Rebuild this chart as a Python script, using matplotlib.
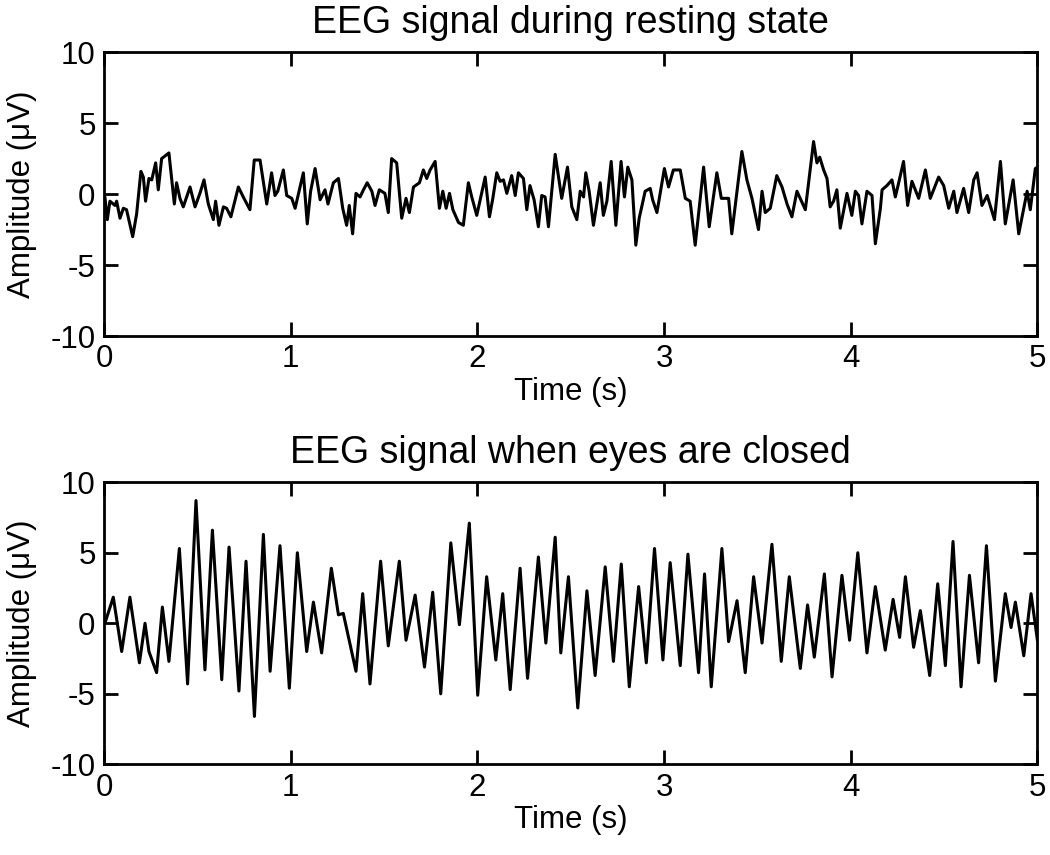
import matplotlib
matplotlib.use("Agg")
import matplotlib.pyplot as plt

# values (time in s, amplitude in uV), at peaks / troughs
rest_t = [0.0, 0.005, 0.018, 0.032, 0.059, 0.068, 0.086, 0.104, 0.121, 0.154, 0.175,
          0.198, 0.211, 0.223, 0.241, 0.256, 0.277, 0.291, 0.309, 0.348, 0.377, 0.389,
          0.407, 0.425, 0.461, 0.488, 0.514, 0.536, 0.559, 0.586, 0.598, 0.616, 0.640,
          0.657, 0.680, 0.720, 0.746, 0.782, 0.805, 0.836, 0.872, 0.898, 0.916, 0.931,
          0.961, 0.979, 1.006, 1.024, 1.068, 1.089, 1.107, 1.131, 1.158, 1.184, 1.200,
          1.229, 1.256, 1.279, 1.300, 1.314, 1.332, 1.350, 1.372, 1.390, 1.410, 1.435,
          1.452, 1.475, 1.505, 1.523, 1.541, 1.568, 1.595, 1.618, 1.636, 1.658, 1.690,
          1.711, 1.729, 1.747, 1.774, 1.797, 1.815, 1.833, 1.851, 1.869, 1.899, 1.925,
          1.952, 1.970, 1.997, 2.042, 2.065, 2.083, 2.104, 2.122, 2.140, 2.158, 2.184,
          2.203, 2.220, 2.247, 2.265, 2.282, 2.304, 2.327, 2.345, 2.363, 2.381, 2.417,
          2.452, 2.483, 2.506, 2.533, 2.551, 2.569, 2.581, 2.599, 2.622, 2.658, 2.675,
          2.694, 2.717, 2.742, 2.770, 2.788, 2.806, 2.828, 2.849, 2.867, 2.899, 2.926,
          2.939, 2.962, 3.002, 3.024, 3.050, 3.087, 3.114, 3.140, 3.167, 3.212, 3.242,
          3.283, 3.307, 3.346, 3.363, 3.417, 3.444, 3.471, 3.506, 3.525, 3.542, 3.569,
          3.604, 3.632, 3.659, 3.685, 3.712, 3.757, 3.801, 3.819, 3.834, 3.855, 3.873,
          3.890, 3.908, 3.926, 3.944, 3.980, 4.006, 4.025, 4.042, 4.060, 4.087, 4.114,
          4.132, 4.159, 4.168, 4.194, 4.221, 4.239, 4.257, 4.283, 4.305, 4.328, 4.364,
          4.400, 4.426, 4.471, 4.498, 4.525, 4.552, 4.569, 4.605, 4.632, 4.659, 4.677,
          4.703, 4.731, 4.770, 4.802, 4.828, 4.870, 4.900, 4.945, 4.962, 4.989, 5.0]
rest_v = [-0.3, -0.2, -1.8, -0.5, -0.8, -0.5, -1.7, -1.0, -1.1, -3.0, -1.4,
          1.6, 1.2, -0.5, 1.1, 1.0, 2.2, 0.3, 2.5, 2.9, -0.7, 0.8,
          -0.3, -0.9, 0.5, -0.9, 0.05, 1.0, -0.7, -1.8, -0.5, -2.2, -0.9,
          -1.0, -1.6, 0.5, -0.2, -1.1, 2.4, 2.4, -0.7, 1.5, -0.1, 0.2,
          1.7, -0.1, -0.3, -1.0, 1.5, -2.1, 0.2, 1.8, -0.4, 0.3, -0.7,
          0.8, 1.1, -1.0, -2.2, -0.8, -2.8, 0.05, -0.2, 0.3, 0.8, 0.2,
          -0.8, 0.3, 0.05, -1.3, 2.5, 2.2, -1.7, -0.3, -1.3, 0.5, 0.8,
          1.7, 1.1, 1.7, 2.3, -1.0, 0.2, -1.0, 0.05, -1.1, -2.0, -2.2,
          0.8, -0.2, -1.5, 1.2, -1.6, -0.3, 1.5, 0.9, 1.0, 0.05, 1.3,
          -0.1, 1.5, 1.1, -1.1, 0.6, -0.4, -2.3, -0.1, -0.2, -2.3, 2.8,
          -0.3, 1.9, -0.9, -1.8, 0.2, -0.2, 1.5, 0.2, -2.2, 0.8, -1.5,
          -0.5, 2.3, -2.2, 2.3, -0.2, 1.9, 1.0, -3.6, -1.7, 0.2, 0.4,
          -0.4, -1.3, 1.8, 0.5, 1.7, 1.7, -0.3, -0.5, -3.6, 1.9, -2.3,
          1.5, -0.3, -0.3, -2.8, 3.0, 1.0, -0.3, -2.5, 0.2, -1.3, -1.0,
          1.3, 0.5, -0.7, -1.6, 0.2, -1.1, 3.7, 2.2, 2.6, 1.7, 1.1,
          -0.9, -0.5, 0.3, -2.4, 0.05, -1.5, 0.2, -0.1, -2.1, 0.2, -0.1,
          -3.5, -1.0, 0.3, 0.6, 1.0, -0.2, 0.8, 2.3, -0.8, 0.9, -0.3,
          1.7, -0.3, 1.2, 0.6, -1.0, 0.2, -1.3, 0.4, -1.3, 1.0, 1.5,
          -0.8, -0.1, -1.8, 2.3, -2.1, 1.0, -2.8, 0.2, -1.1, 1.8, 1.9]

closed_t = [0.0, 0.005, 0.050, 0.095, 0.139, 0.190, 0.220, 0.241, 0.282, 0.313, 0.348,
            0.404, 0.448, 0.493, 0.541, 0.581, 0.631, 0.670, 0.723, 0.761, 0.806, 0.854,
            0.890, 0.943, 0.993, 1.036, 1.086, 1.122, 1.166, 1.218, 1.256, 1.282, 1.350,
            1.386, 1.425, 1.482, 1.523, 1.582, 1.618, 1.667, 1.717, 1.761, 1.804, 1.858,
            1.904, 1.957, 2.002, 2.050, 2.099, 2.136, 2.176, 2.229, 2.269, 2.327, 2.367,
            2.417, 2.447, 2.488, 2.538, 2.587, 2.631, 2.685, 2.729, 2.771, 2.814, 2.864,
            2.905, 2.949, 2.994, 3.033, 3.087, 3.128, 3.185, 3.217, 3.253, 3.310, 3.346,
            3.391, 3.435, 3.480, 3.525, 3.578, 3.628, 3.671, 3.730, 3.769, 3.805, 3.859,
            3.900, 3.953, 3.994, 4.038, 4.087, 4.132, 4.185, 4.227, 4.262, 4.293, 4.337,
            4.373, 4.423, 4.466, 4.507, 4.548, 4.591, 4.636, 4.685, 4.727, 4.775, 4.828,
            4.859, 4.882, 4.927, 4.966, 5.0]
closed_v = [0.3, 0.0, 1.85, -2.0, 1.85, -2.8, 0.0, -2.0, -3.5, 1.15, -2.7,
            5.3, -4.3, 8.7, -3.3, 6.6, -4.0, 5.4, -4.8, 4.4, -6.6, 6.3,
            -3.4, 5.5, -4.6, 5.0, -2.0, 1.5, -2.1, 3.9, 0.6, 0.7, -3.4,
            2.1, -4.3, 4.4, -1.6, 4.4, -1.2, 2.0, -3.1, 2.2, -5.0, 5.7,
            -0.1, 7.1, -5.1, 3.3, -2.6, 2.1, -4.7, 3.9, -3.9, 4.7, -1.4,
            6.1, -2.1, 3.3, -6.0, 2.3, -3.7, 4.0, -2.7, 4.2, -4.5, 2.6,
            -2.8, 5.3, -2.6, 4.3, -3.0, 4.9, -3.5, 3.5, -4.5, 5.3, -1.3,
            1.6, -3.5, 3.3, -1.4, 5.6, -2.7, 3.3, -3.2, 1.3, -2.4, 3.5,
            -3.8, 3.4, -1.2, 5.0, -2.1, 2.6, -1.9, 1.7, -1.0, 3.3, -1.7,
            0.9, -3.7, 2.8, -3.0, 5.8, -4.5, 3.4, -2.8, 5.5, -4.1, 2.1,
            -0.3, 1.5, -2.3, 2.1, -1.2]

x_ticks = [0, 1, 2, 3, 4, 5]
y_ticks = [-10, -5, 0, 5, 10]

plt.rcParams['font.family'] = ['Liberation Sans', 'DejaVu Sans']
plt.rcParams['font.size'] = 22.5
plt.rcParams['axes.unicode_minus'] = False

fig = plt.figure(figsize=(10.5, 8.55), dpi=100)
ax1 = fig.add_axes([0.099, 0.607, 0.889, 0.332])
ax2 = fig.add_axes([0.099, 0.106, 0.889, 0.330])

panels = [(ax1, rest_t, rest_v, 'EEG signal during resting state'),
          (ax2, closed_t, closed_v, 'EEG signal when eyes are closed')]

for ax, t, v, title in panels:
    ax.plot(t, v, color='black', linewidth=2.2, solid_joinstyle='round')
    ax.set_xlim(0, 5)
    ax.set_ylim(-10, 10)
    ax.set_xticks(x_ticks)
    ax.set_yticks(y_ticks)
    ax.tick_params(direction='in', top=True, right=True, length=10, width=2, pad=6)
    for s in ax.spines.values():
        s.set_linewidth(2)
    ax.set_title(title, pad=14)
    ax.set_xlabel('Time (s)', labelpad=2)
    ax.set_ylabel('Amplitude (μV)', labelpad=10)

fig.savefig('out.png', dpi=100)
